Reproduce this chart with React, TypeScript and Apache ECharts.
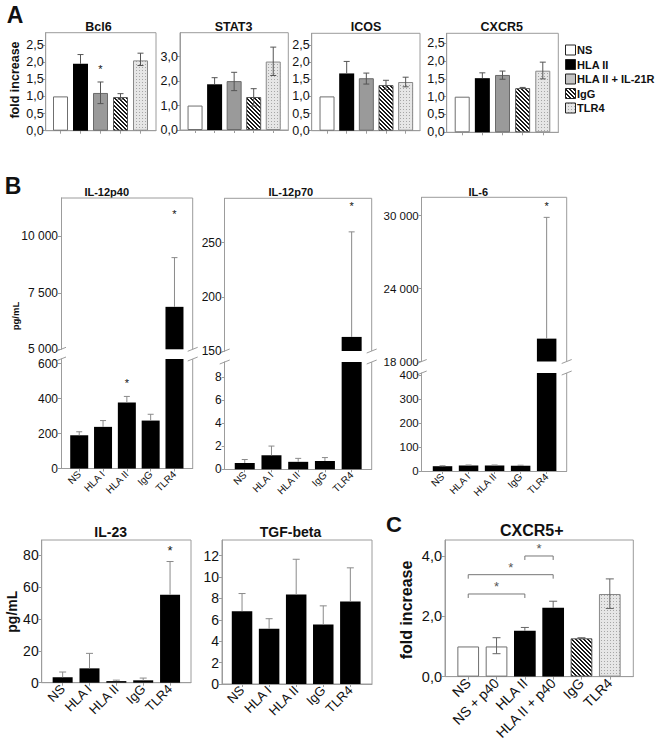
import React, { useEffect, useRef } from 'react';
import * as echarts from 'echarts';

const FONT = '"Liberation Sans", Arial, Helvetica, sans-serif';
const FRAME = '#9c9c9c';

// ---------------- Panel A data ----------------
const catsA = ['NS', 'HLA II', 'HLA II + IL-21R', 'IgG', 'TLR4'];
const fillsA = ['white', 'black', 'gray', 'hatch', 'dots'];
const ticksA = [0, 0.5, 1, 1.5, 2, 2.5];
const ticksStat3 = [0, 1, 2, 3];

const bcl6Mean = [1.0, 1.95, 1.1, 0.98, 2.05];
const bcl6Lo = [1.0, 1.95, 0.79, 0.92, 1.9];
const bcl6Hi = [1.0, 2.22, 1.42, 1.08, 2.26];
const bcl6Stars = [[2, 1.8]];

const stat3Mean = [1.0, 1.87, 2.0, 1.35, 2.8];
const stat3Lo = [1.0, 1.87, 1.61, 0.98, 2.23];
const stat3Hi = [1.0, 2.14, 2.36, 1.69, 3.39];

const icosMean = [1.0, 1.67, 1.53, 1.33, 1.42];
const icosLo = [1.0, 1.67, 1.36, 1.2, 1.28];
const icosHi = [1.0, 2.02, 1.68, 1.47, 1.56];

const cxcr5Mean = [1.0, 1.52, 1.61, 1.24, 1.73];
const cxcr5Lo = [1.0, 1.52, 1.49, 1.23, 1.5];
const cxcr5Hi = [1.0, 1.67, 1.72, 1.26, 1.97];

// ---------------- Panel B data ----------------
const catsB = ['NS', 'HLA I', 'HLA II', 'IgG', 'TLR4'];
const fillsB = ['black', 'black', 'black', 'black', 'black'];

const il12p40Mean = [190, 238, 377, 274, 6880];
const il12p40Hi = [210, 274, 412, 310, 9060];
const il12p40Stars = [[2, 486], [4, 11000]];
const il12p40UpperTicks = [5000, 7500, 10000];
const il12p40LowerTicks = [0, 200, 400, 600];

const il12p70Mean = [0.55, 1.22, 0.65, 0.72, 163];
const il12p70Hi = [0.85, 2.02, 0.95, 1.02, 260];
const il12p70Stars = [[4, 284]];
const il12p70UpperTicks = [150, 200, 250];
const il12p70LowerTicks = [0, 2, 4, 6, 8];

const il6Mean = [20, 23, 23, 22, 19880];
const il6Hi = [22, 25, 25, 24, 29850];
const il6Stars = [[4, 30800]];
const il6UpperTicks = [18000, 24000, 30000];
const il6LowerTicks = [0, 100, 200, 300, 400];

const il23Mean = [3.4, 9.0, 1.0, 1.5, 55.2];
const il23Hi = [6.7, 18.4, 1.6, 2.9, 76];
const il23Stars = [[4, 83]];
const il23Ticks = [0, 20, 40, 60, 80];

const tgfMean = [6.8, 5.15, 8.35, 5.55, 7.7];
const tgfHi = [8.45, 6.1, 11.65, 7.3, 10.85];
const tgfTicks = [0, 2, 4, 6, 8, 10, 12];

// ---------------- Panel C data ----------------
const catsC = ['NS', 'NS + p40', 'HLA II', 'HLA II + p40', 'IgG', 'TLR4'];
const fillsC = ['white', 'white', 'black', 'black', 'hatch', 'dots'];
const cxcrPlusMean = [1.0, 1.0, 1.52, 2.28, 1.27, 2.74];
const cxcrPlusLo = [1.0, 0.76, 1.52, 2.28, 1.26, 2.26];
const cxcrPlusHi = [1.0, 1.29, 1.63, 2.5, 1.29, 3.24];
const cxcrPlusBrackets = [[0, 2, 2.74], [0, 3, 3.38], [2, 3, 4.0]];
const ticksC = [0, 2, 4];

const legendNames = ['NS', 'HLA II', 'HLA II + IL-21R', 'IgG', 'TLR4'];
const legendFills = ['white', 'black', 'lightgray', 'hatch', 'dots'];

// ---------------- helpers ----------------
const fmtComma = (v: number) => v.toFixed(1).replace('.', ',');
const fmtThousands = (v: number) => String(v).replace(/\B(?=(\d{3})+(?!\d))/g, ' ');

function makePatterns() {
  const h = document.createElement('canvas');
  h.width = 4; h.height = 4;
  const hc = h.getContext('2d')!;
  hc.fillStyle = '#ffffff'; hc.fillRect(0, 0, 4, 4);
  hc.fillStyle = '#1a1a1a';
  for (let i = 0; i < 4; i++) { hc.fillRect(i, i, 1, 1); hc.fillRect((i + 1) % 4, i, 1, 1); }
  const d = document.createElement('canvas');
  d.width = 3; d.height = 3;
  const dc = d.getContext('2d')!;
  dc.fillStyle = '#e6e6e6'; dc.fillRect(0, 0, 3, 3);
  dc.fillStyle = '#a6a6a6'; dc.fillRect(1, 1, 1, 1);
  return {
    hatch: { image: h, repeat: 'repeat', imageWidth: 4, imageHeight: 4 },
    dots: { image: d, repeat: 'repeat', imageWidth: 3, imageHeight: 3 },
  };
}

function fillStyle(kind: string, pats: any) {
  switch (kind) {
    case 'white': return { color: '#ffffff', borderColor: '#6f6f6f', borderWidth: 1 };
    case 'black': return { color: '#000000', borderColor: '#000000', borderWidth: 0 };
    case 'gray': return { color: '#9a9a9a', borderColor: '#6a6a6a', borderWidth: 1 };
    case 'lightgray': return { color: '#c4c4c4', borderColor: '#333', borderWidth: 1 };
    case 'hatch': return { color: pats.hatch, borderColor: '#555', borderWidth: 1 };
    case 'dots': return { color: pats.dots, borderColor: '#888', borderWidth: 1 };
  }
  return { color: '#000' };
}

interface Panel {
  left: number; right: number; top: number; bottom: number;
  padL: number; padR: number;
  yMin: number; yMax: number; ticks: number[]; fmt: (v: number) => string;
  ySize: number; yMargin: number;
  cats: string[] | null; xSize: number;
  barW: number; mean: number[]; lo: number[]; hi: number[]; fills: string[];
  stars: number[][]; starSize: number; cap: number; errColor: string;
  frame: 'box' | 'upper' | 'lower';
  brackets?: number[][];
}

function buildOption(pats: any) {
  const A = (o: Partial<Panel>): Panel => ({
    left: 0, right: 0, top: 0, bottom: 0, padL: 0.77, padR: 0.77, yMin: 0, yMax: 1,
    ticks: ticksA, fmt: fmtComma, ySize: 12.5, yMargin: 2, cats: null, xSize: 10, barW: 15,
    mean: [], lo: [], hi: [], fills: fillsA, stars: [], starSize: 11, cap: 6, errColor: '#555',
    frame: 'box', ...o,
  });

  const panels: Panel[] = [
    // Panel A
    A({ left: 45.7, right: 156, top: 32.7, bottom: 130.7, padL: 0.74, padR: 0.775, yMax: 2.857,
      mean: bcl6Mean, lo: bcl6Lo, hi: bcl6Hi, stars: bcl6Stars }),
    A({ left: 180, right: 288.3, top: 32.7, bottom: 130, yMax: 3.98, ticks: ticksStat3,
      mean: stat3Mean, lo: stat3Lo, hi: stat3Hi }),
    A({ left: 311.7, right: 420, top: 33.3, bottom: 130.7, padL: 0.78, padR: 0.73, yMax: 2.84,
      mean: icosMean, lo: icosLo, hi: icosHi }),
    A({ left: 446.7, right: 558.3, top: 33.3, bottom: 132.3, yMax: 2.78,
      mean: cxcr5Mean, lo: cxcr5Lo, hi: cxcr5Hi }),
    // Panel B broken axes
    A({ left: 61, right: 192.7, top: 198, bottom: 349.3, padL: 0.765, padR: 0.765, yMin: 5000, yMax: 11700,
      ticks: il12p40UpperTicks, fmt: fmtThousands, ySize: 12, yMargin: 3, barW: 18, fills: fillsB,
      mean: il12p40Mean, lo: il12p40Mean, hi: il12p40Hi, stars: il12p40Stars, starSize: 11, cap: 6, errColor: '#8a8a8a', frame: 'upper' }),
    A({ left: 61, right: 192.7, top: 359, bottom: 468.5, padL: 0.765, padR: 0.765, yMin: 0, yMax: 626,
      ticks: il12p40LowerTicks, fmt: fmtThousands, ySize: 12, yMargin: 3, barW: 18, fills: fillsB, cats: catsB, xSize: 10,
      mean: il12p40Mean, lo: il12p40Mean, hi: il12p40Hi, stars: il12p40Stars, starSize: 11, cap: 6, errColor: '#8a8a8a', frame: 'lower' }),
    A({ left: 224.7, right: 371.7, top: 198.3, bottom: 351, padL: 0.75, padR: 0.75, yMin: 150, yMax: 291,
      ticks: il12p70UpperTicks, fmt: fmtThousands, ySize: 12, yMargin: 3, barW: 20, fills: fillsB,
      mean: il12p70Mean, lo: il12p70Mean, hi: il12p70Hi, stars: il12p70Stars, starSize: 11, cap: 6, errColor: '#8a8a8a', frame: 'upper' }),
    A({ left: 224.7, right: 371.7, top: 362, bottom: 469.3, padL: 0.75, padR: 0.75, yMin: 0, yMax: 9.33,
      ticks: il12p70LowerTicks, fmt: fmtThousands, ySize: 12, yMargin: 3, barW: 20, fills: fillsB, cats: catsB, xSize: 10,
      mean: il12p70Mean, lo: il12p70Mean, hi: il12p70Hi, stars: il12p70Stars, starSize: 11, cap: 6, errColor: '#8a8a8a', frame: 'lower' }),
    A({ left: 421.7, right: 566.7, top: 197.3, bottom: 361.5, padL: 0.8, padR: 0.77, yMin: 18000, yMax: 31500,
      ticks: il6UpperTicks, fmt: fmtThousands, ySize: 11.5, yMargin: 3, barW: 19.5, fills: fillsB,
      mean: il6Mean, lo: il6Mean, hi: il6Hi, stars: il6Stars, starSize: 11, cap: 6, errColor: '#8a8a8a', frame: 'upper' }),
    A({ left: 421.7, right: 566.7, top: 373, bottom: 471, padL: 0.8, padR: 0.77, yMin: 0, yMax: 409,
      ticks: il6LowerTicks, fmt: fmtThousands, ySize: 11.5, yMargin: 3, barW: 19.5, fills: fillsB, cats: catsB, xSize: 10,
      mean: il6Mean, lo: il6Mean, hi: il6Hi, stars: il6Stars, starSize: 11, cap: 6, errColor: '#8a8a8a', frame: 'lower' }),
    // Panel B bottom row
    A({ left: 41.7, right: 191, top: 540, bottom: 682.7, padL: 0.78, padR: 0.78, yMax: 89.5,
      ticks: il23Ticks, fmt: fmtThousands, ySize: 14, yMargin: 3, barW: 20, fills: fillsB, cats: catsB, xSize: 13,
      mean: il23Mean, lo: il23Mean, hi: il23Hi, stars: il23Stars, starSize: 13, cap: 7, errColor: '#8a8a8a' }),
    A({ left: 222, right: 372, top: 540, bottom: 684, padL: 0.74, padR: 0.8, yMax: 13.45,
      ticks: tgfTicks, fmt: fmtThousands, ySize: 14, yMargin: 3, barW: 20.5, fills: fillsB, cats: catsB, xSize: 13,
      mean: tgfMean, lo: tgfMean, hi: tgfHi, cap: 7, errColor: '#8a8a8a' }),
    // Panel C
    A({ left: 445, right: 633.3, top: 540, bottom: 681, padL: 0.82, padR: 0.83, yMax: 4.53,
      ticks: ticksC, fmt: fmtComma, ySize: 14.5, yMargin: 3, barW: 21.7, fills: fillsC, cats: catsC, xSize: 14,
      mean: cxcrPlusMean, lo: cxcrPlusLo, hi: cxcrPlusHi, cap: 8, errColor: '#666', brackets: cxcrPlusBrackets }),
  ];

  const grid: any[] = [], xAxis: any[] = [], yAxis: any[] = [], series: any[] = [];
  panels.forEach((p, k) => {
    const idx = p.mean.map((_, i) => i);
    grid.push({ left: p.left, top: p.top, width: p.right - p.left, height: p.bottom - p.top,
      show: p.frame === 'box', borderColor: FRAME, borderWidth: 1, backgroundColor: 'transparent' });
    xAxis.push({
      type: 'value', gridIndex: k, min: -p.padL, max: p.mean.length - 1 + p.padR, position: 'bottom',
      axisLine: { show: p.frame !== 'upper', onZero: false, lineStyle: { color: FRAME } },
      axisTick: { show: p.frame !== 'upper', customValues: idx, length: 3, lineStyle: { color: FRAME } },
      axisLabel: { show: !!p.cats && p.frame !== 'upper', customValues: idx, rotate: 45, fontSize: p.xSize,
        fontFamily: FONT, color: '#111', margin: 4,
        formatter: (v: number) => (p.cats ? p.cats[Math.round(v)] : '') },
      splitLine: { show: false },
    });
    yAxis.push({
      type: 'value', gridIndex: k, min: p.yMin, max: p.yMax, position: 'left',
      axisLine: { show: true, onZero: false, lineStyle: { color: FRAME } },
      axisTick: { show: true, customValues: p.ticks, length: 3, lineStyle: { color: FRAME } },
      axisLabel: { customValues: p.ticks, formatter: p.fmt, fontSize: p.ySize, fontFamily: FONT, color: '#111', margin: p.yMargin },
      splitLine: { show: false },
    });
    series.push({
      type: 'bar', xAxisIndex: k, yAxisIndex: k, barWidth: p.barW, clip: true, silent: true, z: 2,
      data: p.mean.map((v, i) => ({ value: [i, v], itemStyle: fillStyle(p.fills[i], pats) })),
    });
    series.push({
      type: 'custom', xAxisIndex: k, yAxisIndex: k, silent: true, z: 3,
      data: p.mean.map((v, i) => [i, p.lo[i], p.hi[i], v]),
      renderItem: (params: any, api: any) => {
        const cs = params.coordSys;
        const i = api.value(0), lo = api.value(1), hi = api.value(2), m = api.value(3);
        const black = p.fills[i] === 'black';
        const from = black ? m : lo;
        if (!(hi > from)) return null;
        const pt = api.coord([i, hi]);
        const pb = api.coord([i, from]);
        const top = cs.y, bot = cs.y + cs.height;
        if (pt[1] > bot || pb[1] < top) return null;
        const x = pt[0];
        const y1 = Math.max(pt[1], top), y2 = Math.min(pb[1], bot);
        const st = { stroke: p.errColor, lineWidth: 1 };
        const ch: any[] = [{ type: 'line', shape: { x1: x, y1, x2: x, y2 }, style: st }];
        if (pt[1] >= top) ch.push({ type: 'line', shape: { x1: x - p.cap / 2, y1: pt[1], x2: x + p.cap / 2, y2: pt[1] }, style: st });
        if (!black && pb[1] <= bot) ch.push({ type: 'line', shape: { x1: x - p.cap / 2, y1: pb[1], x2: x + p.cap / 2, y2: pb[1] }, style: st });
        return { type: 'group', children: ch };
      },
    });
    if (p.stars.length) {
      series.push({
        type: 'custom', xAxisIndex: k, yAxisIndex: k, silent: true, z: 4, data: p.stars,
        renderItem: (params: any, api: any) => {
          const cs = params.coordSys;
          const c = api.coord([api.value(0), api.value(1)]);
          if (c[1] < cs.y || c[1] > cs.y + cs.height) return null;
          return { type: 'text', x: c[0], y: c[1], style: { text: '*', fill: '#111', font: `${p.starSize}px ${FONT}`, align: 'center', verticalAlign: 'middle' } };
        },
      });
    }
    if (p.brackets) {
      series.push({
        type: 'custom', xAxisIndex: k, yAxisIndex: k, silent: true, z: 4, data: p.brackets,
        renderItem: (params: any, api: any) => {
          const a = api.coord([api.value(0), api.value(2)]);
          const b = api.coord([api.value(1), api.value(2)]);
          return {
            type: 'group', children: [
              { type: 'polyline', shape: { points: [[a[0], a[1] + 4], [a[0], a[1]], [b[0], b[1]], [b[0], b[1] + 4]] }, style: { stroke: '#777', lineWidth: 1, fill: 'none' } },
              { type: 'text', x: (a[0] + b[0]) / 2, y: a[1] - 7, style: { text: '*', fill: '#555', font: `13px ${FONT}`, align: 'center', verticalAlign: 'middle' } },
            ],
          };
        },
      });
    }
  });

  // ------- graphic: labels, legend, broken-axis frames -------
  const g: any[] = [];
  const txt = (text: string, x: number, y: number, size: number, bold = true, rot = 0, align = 'center') => ({
    type: 'text', x, y, rotation: rot, silent: true,
    style: { text, fill: '#111', font: `${bold ? 'bold ' : ''}${size}px ${FONT}`, align, verticalAlign: 'middle' },
  });
  g.push(txt('A', 15, 15, 23));
  g.push(txt('B', 13, 186, 23));
  g.push(txt('C', 394, 524, 22));
  g.push(txt('Bcl6', 98.5, 27, 12.5));
  g.push(txt('STAT3', 233.5, 27, 12.5));
  g.push(txt('ICOS', 366, 27, 12.5));
  g.push(txt('CXCR5', 501.7, 27, 12.5));
  g.push(txt('fold increase', 15, 80, 12.5, true, Math.PI / 2));
  g.push(txt('IL-12p40', 106.7, 191.5, 11));
  g.push(txt('IL-12p70', 290.8, 191.5, 11));
  g.push(txt('IL-6', 478.3, 191.5, 11));
  g.push(txt('pg/mL', 15, 316, 9.5, true, Math.PI / 2));
  g.push(txt('IL-23', 110.7, 531.5, 14));
  g.push(txt('TGF-beta', 290.5, 531.5, 14));
  g.push(txt('CXCR5+', 531.7, 530, 16));
  g.push(txt('pg/mL', 11.7, 611.7, 14, true, Math.PI / 2));
  g.push(txt('fold increase', 406.7, 610, 16, true, Math.PI / 2));

  const legY = [50, 64.5, 79, 93.5, 108];
  legendNames.forEach((n, i) => {
    const st: any = fillStyle(legendFills[i], pats);
    g.push({ type: 'rect', silent: true, shape: { x: 565.5, y: legY[i] - 5, width: 10, height: 10 },
      style: { fill: st.color, stroke: '#222', lineWidth: 1 } });
    g.push(txt(n, 577, legY[i], 11, true, 0, 'left'));
  });

  // broken axes frames
  for (let k = 4; k < 10; k += 2) {
    const up = panels[k], lw = panels[k + 1];
    const ln = (x1: number, y1: number, x2: number, y2: number) => ({ type: 'line', silent: true,
      shape: { x1, y1, x2, y2 }, style: { stroke: FRAME, lineWidth: 1 } });
    g.push(ln(up.left, up.top, up.right, up.top));
    g.push(ln(up.right, up.top, up.right, up.bottom));
    g.push(ln(lw.right, lw.top, lw.right, lw.bottom));
    for (const x of [up.left, up.right]) {
      g.push(ln(x - 5, up.bottom + 2, x + 5, up.bottom - 2));
      g.push(ln(x - 5, lw.top + 2, x + 5, lw.top - 2));
    }
  }

  return { animation: false, backgroundColor: '#fff', textStyle: { fontFamily: FONT }, grid, xAxis, yAxis, series, graphic: g };
}

export default function App() {
  const ref = useRef<HTMLDivElement>(null);
  useEffect(() => {
    const chart = echarts.init(ref.current!, null, { renderer: 'svg' });
    chart.setOption(buildOption(makePatterns()) as any);
    return () => chart.dispose();
  }, []);
  return <div ref={ref} style={{ position: 'absolute', left: 0, top: 0, width: 660, height: 743, background: '#fff' }} />;
}
